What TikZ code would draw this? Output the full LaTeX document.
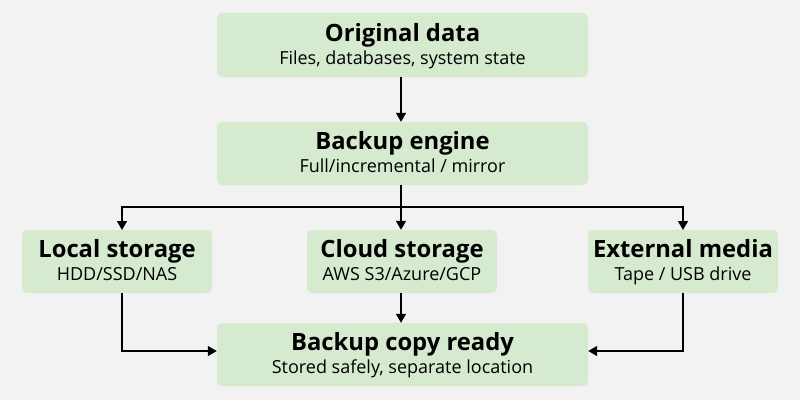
\documentclass[tikz,border=0pt]{standalone}
\usepackage{fontspec}
\setmainfont{Open Sans}
\usetikzlibrary{arrows.meta}
\definecolor{bgc}{RGB}{242,242,242}
\definecolor{boxc}{RGB}{214,234,207}
\begin{document}
\begin{tikzpicture}[x=1pt,y=-1pt,
  box/.style={fill=boxc, rounded corners=5pt, inner sep=0pt, align=center},
  conn/.style={line width=1.4pt, -{Triangle[length=9pt,width=10pt]}},
]
\fill[bgc] (0,0) rectangle (800,400);
\useasboundingbox (0,0) rectangle (800,400);
\newcommand{\bx}[7]{%
  \node[box, minimum width=#4pt, minimum height=#5pt] (#1) at (#2,#3) {};
  \node[font=\fontsize{23.8}{26}\selectfont\bfseries, inner sep=0pt, anchor=base] (#1t) at (#2,#3-4) {#6};
  \node[font=\fontsize{18}{20}\selectfont, inner sep=0pt, anchor=base] (#1s) at (#2,#3+19) {#7};
}
\bx{orig}{402.5}{45}{371}{64}{Original data}{Files, databases, system state}
\bx{eng}{402.5}{153.5}{371}{63}{Backup engine}{Full/incremental / mirror}
\bx{loc}{117}{261.5}{190}{63}{Local storage}{HDD/SSD/NAS}
\bx{cld}{402}{261.5}{190}{63}{Cloud storage}{AWS S3/Azure/GCP}
\bx{ext}{683}{261.5}{190}{63}{External media}{Tape / USB drive}
\bx{rdy}{402.5}{354.5}{371}{63}{Backup copy ready}{Stored safely, separate location}
\coordinate (j) at (401,207);
\draw[conn] (orig.south -| j) -- (eng.north -| j);
\draw[line width=1.4pt] (eng.south -| j) -- (j);
\draw[conn] (j) -- (cld.north -| j);
\draw[conn] (j) -- (122,207) -- (122,230);
\draw[conn] (j) -- (683,207) -- (683,230);
\draw[conn] (122,293) -- (122,351) -- (rdy.west |- 0,351);
\draw[conn] (cld.south -| j) -- (rdy.north -| j);
\draw[conn] (683,293) -- (683,351) -- (rdy.east |- 0,351);
\end{tikzpicture}
\end{document}
